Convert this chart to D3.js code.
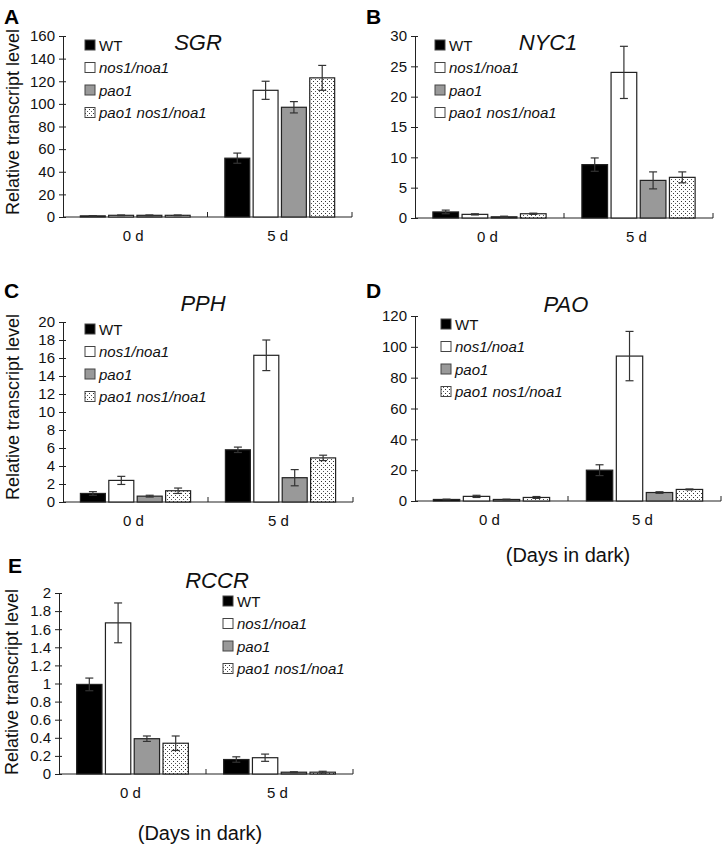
<!DOCTYPE html>
<html><head><meta charset="utf-8">
<script src="https://cdn.jsdelivr.net/npm/d3@7"></script>
<style>body{margin:0;background:#fff}svg{display:block;font-family:"Liberation Sans",Arial,sans-serif}</style>
</head><body><svg id="c" width="726" height="849"></svg>
<script>
// ---- data ----
const days = ["0 d", "5 d"];
const seriesNames = ["WT", "nos1/noa1", "pao1", "pao1 nos1/noa1"];
const genes = ["SGR", "NYC1", "PPH", "PAO", "RCCR"];
const panelLetters = ["A", "B", "C", "D", "E"];
// means [day][series]
const sgrMean = [[1, 1.5, 1.5, 1.5], [52, 112, 97, 123]];
const sgrErr  = [[0.2, 0.3, 0.3, 0.3], [4.5, 8, 5, 11]];
const nyc1Mean = [[1.0, 0.6, 0.2, 0.7], [8.8, 24, 6.2, 6.7]];
const nyc1Err  = [[0.3, 0.1, 0.1, 0.1], [1.1, 4.3, 1.4, 0.9]];
const pphMean = [[0.95, 2.4, 0.65, 1.25], [5.8, 16.3, 2.7, 4.9]];
const pphErr  = [[0.2, 0.45, 0.1, 0.3], [0.3, 1.7, 0.9, 0.3]];
const paoMean = [[1, 3, 1, 2.3], [20, 94, 5.5, 7.5]];
const paoErr  = [[0.2, 0.7, 0.2, 0.6], [3.5, 16, 0.5, 0.3]];
const rccrMean = [[0.99, 1.67, 0.39, 0.34], [0.16, 0.18, 0.02, 0.02]];
const rccrErr  = [[0.07, 0.22, 0.03, 0.08], [0.03, 0.04, 0.005, 0.01]];
const yMax = [160, 30, 20, 120, 2];
const yStep = [20, 5, 2, 20, 0.2];

// ---- layout ----
const layouts = [
  {x0:63, x1:352, y0:217, y1:36, letter:[4,24], title:[198,50], legend:[85,45], yTitle:[13,122], days:null, swWhite:false},
  {x0:415, x1:713, y0:218, y1:36, letter:[366,24], title:[548,50], legend:[435,45], yTitle:null, days:null, swWhite:true},
  {x0:63, x1:353, y0:502, y1:322, letter:[4,298], title:[203,311], legend:[85,329], yTitle:[13,407], days:null, swWhite:false},
  {x0:415, x1:721, y0:501, y1:316, letter:[366,298], title:[566,312], legend:[441,324], yTitle:null, days:[568,562], swWhite:false},
  {x0:59, x1:353, y0:774, y1:593, letter:[8,573], title:[217,588], legend:[223,601], yTitle:[12,682], days:[200,840], swWhite:false}
];
const means = [sgrMean, nyc1Mean, pphMean, paoMean, rccrMean];
const errs = [sgrErr, nyc1Err, pphErr, paoErr, rccrErr];

const svg = d3.select("#c");
const defs = svg.append("defs");
const pat = defs.append("pattern").attr("id","dots").attr("patternUnits","userSpaceOnUse")
  .attr("width",4).attr("height",4);
pat.append("rect").attr("width",4).attr("height",4).attr("fill","#fff");
pat.append("rect").attr("x",1).attr("y",1).attr("width",1).attr("height",1).attr("fill","#333");
pat.append("rect").attr("x",3).attr("y",3).attr("width",1).attr("height",1).attr("fill","#555");

const fills = ["#000", "#fff", "#999", "url(#dots)"];

layouts.forEach((L, p) => {
  const g = svg.append("g");
  const y = d3.scaleLinear().domain([0, yMax[p]]).range([L.y0, L.y1]);
  const xg = d3.scaleBand().domain(days).range([L.x0, L.x1]);
  const span = xg.bandwidth() * 0.76;
  const xs = d3.scaleBand().domain(seriesNames).range([-span/2, span/2]).paddingInner(0.12);
  const ticks = d3.range(0, yMax[p] + yStep[p]/2, yStep[p]);
  const yAxis = d3.axisLeft(y).tickValues(ticks).tickSize(4).tickPadding(5)
    .tickFormat(d => String(+d.toFixed(1)));
  const ya = g.append("g").attr("transform", `translate(${L.x0},0)`).call(yAxis);
  ya.select(".domain").attr("stroke","#222");
  ya.selectAll(".tick line").attr("stroke","#222").attr("x2",3).attr("x1",-4);
  ya.selectAll("text").attr("font-size",15).attr("fill","#111").attr("x",-8);

  // x axis line
  g.append("line").attr("x1",L.x0).attr("x2",L.x1).attr("y1",L.y0).attr("y2",L.y0).attr("stroke","#222");
  // category separator ticks (inside)
  [xg.step(), xg.step()*2].forEach(o => {
    g.append("line").attr("x1",L.x0+o).attr("x2",L.x0+o).attr("y1",L.y0).attr("y2",L.y0-5).attr("stroke","#222");
  });
  days.forEach(d => {
    g.append("text").attr("x", xg(d)+xg.bandwidth()/2 - 2).attr("y", L.y0+24)
      .attr("text-anchor","middle").attr("font-size",15).attr("fill","#111").text(d);
  });

  // bars
  days.forEach((d, di) => {
    const cx = xg(d) + xg.bandwidth()/2;
    seriesNames.forEach((s, si) => {
      const v = means[p][di][si], e = errs[p][di][si];
      const bx = cx + xs(s), bw = xs.bandwidth();
      g.append("rect").attr("x", bx).attr("y", y(v)).attr("width", bw)
        .attr("height", Math.max(0, L.y0 - y(v))).attr("fill", fills[si])
        .attr("stroke", "#222").attr("stroke-width", 1.2);
      const mx = bx + bw/2;
      g.append("line").attr("x1",mx).attr("x2",mx).attr("y1",y(v+e)).attr("y2",y(Math.max(0,v-e)))
        .attr("stroke","#333").attr("stroke-width",1.2);
      [v+e, Math.max(0,v-e)].forEach(t => {
        g.append("line").attr("x1",mx-4).attr("x2",mx+4).attr("y1",y(t)).attr("y2",y(t))
          .attr("stroke","#333").attr("stroke-width",1.2);
      });
    });
  });

  // legend
  seriesNames.forEach((s, si) => {
    const ly = L.legend[1] + si*22.5;
    g.append("rect").attr("x", L.legend[0]).attr("y", ly-5).attr("width",10).attr("height",10)
      .attr("fill", (L.swWhite && si===3) ? "#fff" : fills[si]).attr("stroke","#444").attr("stroke-width",1);
    g.append("text").attr("x", L.legend[0]+14).attr("y", ly+5.5).attr("font-size",15)
      .attr("font-style", si===0 ? "normal" : "italic").attr("fill","#111").text(s);
  });

  // title
  g.append("text").attr("x",L.title[0]).attr("y",L.title[1]).attr("text-anchor","middle")
    .attr("font-size",22).attr("font-style","italic").attr("fill","#111").text(genes[p]);
  // panel letter
  g.append("text").attr("x",L.letter[0]).attr("y",L.letter[1]).attr("font-size",21)
    .attr("font-weight","bold").attr("fill","#000").text(panelLetters[p]);
  // y title
  if (L.yTitle) {
    g.append("text").attr("transform",`translate(${L.yTitle[0]+6},${L.yTitle[1]}) rotate(-90)`)
      .attr("text-anchor","middle").attr("font-size",18).attr("fill","#111").text("Relative transcript level");
  }
  if (L.days) {
    g.append("text").attr("x",L.days[0]).attr("y",L.days[1]).attr("text-anchor","middle")
      .attr("font-size",20).attr("fill","#111").text("(Days in dark)");
  }
});
</script></body></html>
